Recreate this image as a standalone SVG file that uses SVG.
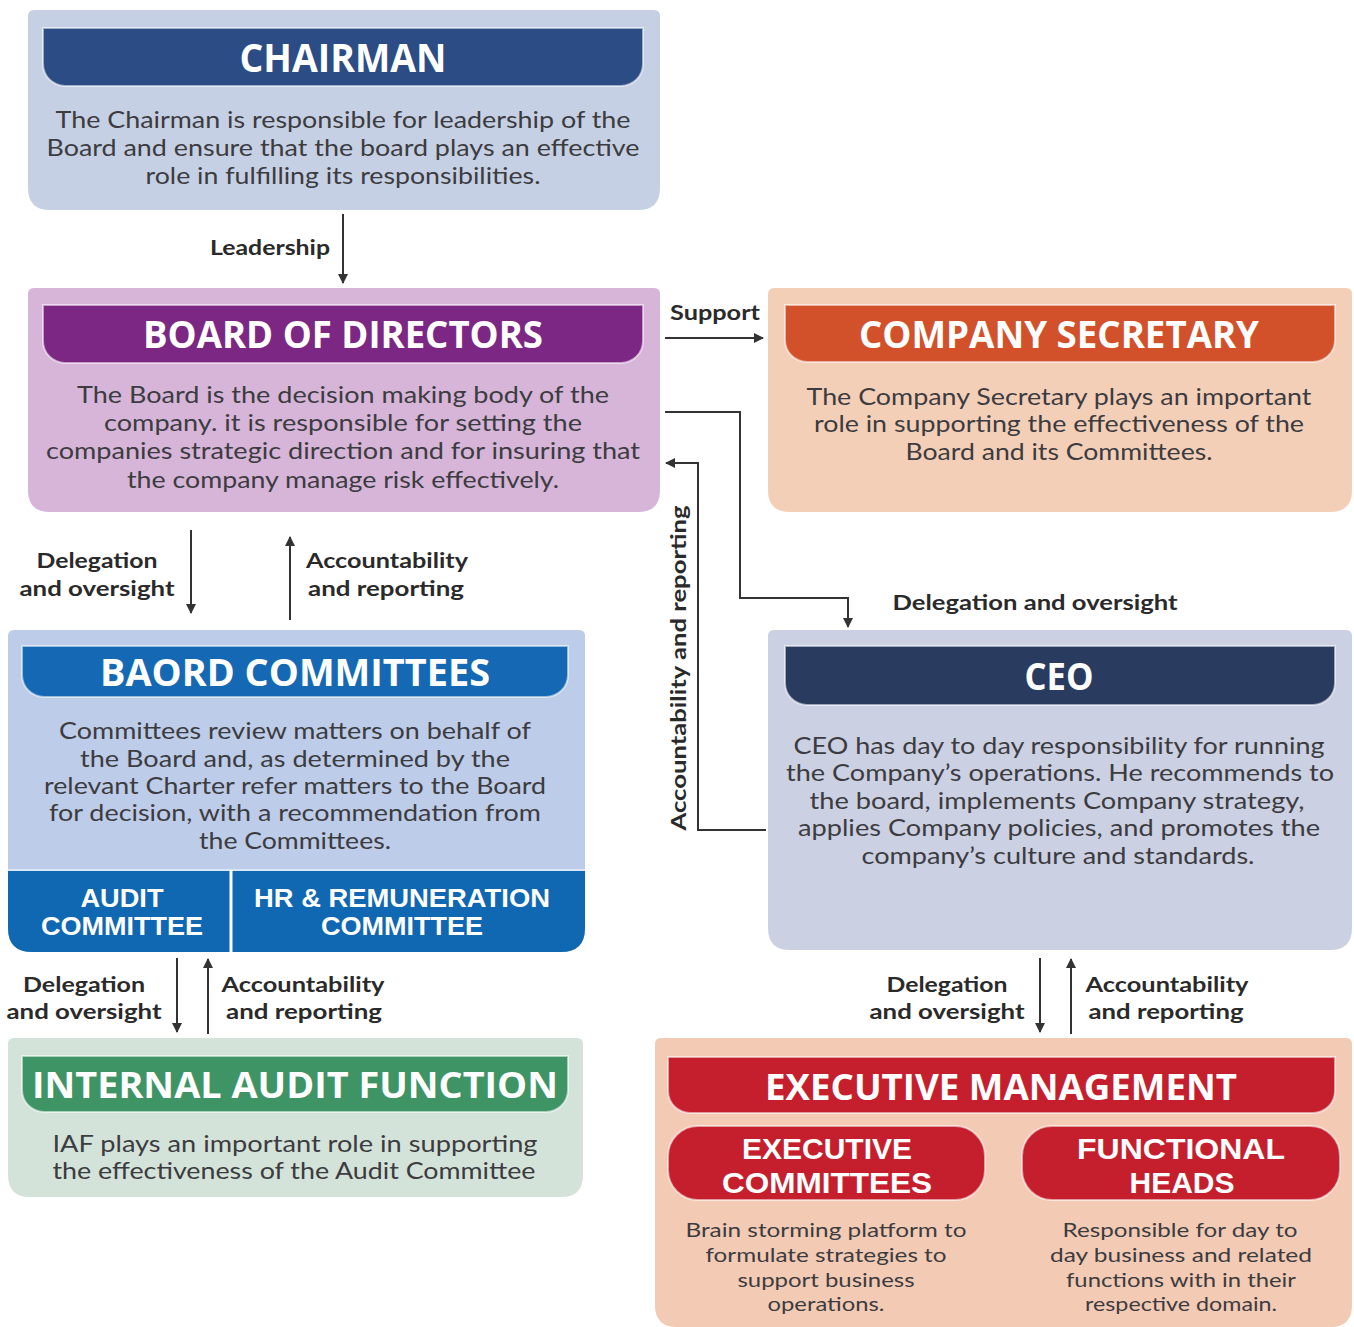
<svg xmlns="http://www.w3.org/2000/svg" width="1354" height="1327" viewBox="0 0 1354 1327">
  <defs>
    <marker id="arrow" viewBox="0 0 10 10" refX="9" refY="5" markerWidth="5" markerHeight="5" orient="auto-start-reverse" markerUnits="strokeWidth">
      <path d="M0,0 L10,5 L0,10 Z" fill="#333"/>
    </marker>
  </defs>
  <style>
    .hd { font-family: "Open Sans", "Liberation Sans", sans-serif; font-weight: 700; fill: #ffffff; text-anchor: middle; }
    .hd2 { font-family: "Liberation Sans", Arial, sans-serif; font-weight: 700; fill: #ffffff; text-anchor: middle; }
    .bd { font-family: Lato, "Liberation Sans", sans-serif; font-size: 23px; fill: #3c3c40; text-anchor: middle; }
    .sm { font-family: Lato, "Liberation Sans", sans-serif; font-size: 20px; fill: #3c3c40; text-anchor: middle; }
    .lb { font-family: Lato, "Liberation Sans", sans-serif; font-size: 21px; font-weight: 700; fill: #2a2a2a; text-anchor: middle; }
    .edge { fill: none; stroke: #333; stroke-width: 2; }
    .hbar { stroke: #ffffff; stroke-opacity: 0.55; stroke-width: 2; }
  </style>

  <rect width="1354" height="1327" fill="#ffffff"/>

  <!-- Chairman -->
  <g id="chairman">
    <path d="M34,10 H654 Q660,10 660,16 V188 Q660,210 638,210 H50 Q28,210 28,188 V16 Q28,10 34,10 Z" fill="#c6d0e4"/>
    <path class="hbar" d="M43,28 H643 V64 A22,22 0 0 1 621,86 H65 A22,22 0 0 1 43,64 Z" fill="#2c4c85"/>
    <text class="hd" x="343" y="72" font-size="40" textLength="207" lengthAdjust="spacingAndGlyphs">CHAIRMAN</text>
    <text class="bd" x="343" y="128" textLength="575" lengthAdjust="spacingAndGlyphs">The Chairman is responsible for leadership of the</text>
    <text class="bd" x="343" y="156" textLength="593" lengthAdjust="spacingAndGlyphs">Board and ensure that the board plays an effective</text>
    <text class="bd" x="343" y="184" textLength="395" lengthAdjust="spacingAndGlyphs">role in fulfilling its responsibilities.</text>
  </g>

  <!-- Board of Directors -->
  <g id="board">
    <path d="M34,288 H654 Q660,288 660,294 V490 Q660,512 638,512 H50 Q28,512 28,490 V294 Q28,288 34,288 Z" fill="#d6b5d9"/>
    <path class="hbar" d="M43,305 H643 V341 A22,22 0 0 1 621,363 H65 A22,22 0 0 1 43,341 Z" fill="#7b2783"/>
    <text class="hd" x="343" y="348" font-size="38" textLength="400" lengthAdjust="spacingAndGlyphs">BOARD OF DIRECTORS</text>
    <text class="bd" x="343" y="403" textLength="532" lengthAdjust="spacingAndGlyphs">The Board is the decision making body of the</text>
    <text class="bd" x="343" y="431" textLength="478" lengthAdjust="spacingAndGlyphs">company. it is responsible for setting the</text>
    <text class="bd" x="343" y="459" textLength="594" lengthAdjust="spacingAndGlyphs">companies strategic direction and for insuring that</text>
    <text class="bd" x="343" y="488" textLength="432" lengthAdjust="spacingAndGlyphs">the company manage risk effectively.</text>
  </g>

  <!-- Company Secretary -->
  <g id="company-secretary">
    <path d="M774,288 H1346 Q1352,288 1352,294 V490 Q1352,512 1330,512 H790 Q768,512 768,490 V294 Q768,288 774,288 Z" fill="#f4cfb8"/>
    <path class="hbar" d="M785,305 H1335 V340 A22,22 0 0 1 1313,362 H807 A22,22 0 0 1 785,340 Z" fill="#d2512a"/>
    <text class="hd" x="1059" y="348" font-size="38" textLength="400" lengthAdjust="spacingAndGlyphs">COMPANY SECRETARY</text>
    <text class="bd" x="1059" y="405" textLength="505" lengthAdjust="spacingAndGlyphs">The Company Secretary plays an important</text>
    <text class="bd" x="1059" y="432" textLength="490" lengthAdjust="spacingAndGlyphs">role in supporting the effectiveness of the</text>
    <text class="bd" x="1059" y="460" textLength="307" lengthAdjust="spacingAndGlyphs">Board and its Committees.</text>
  </g>

  <!-- Board Committees -->
  <g id="board-committees">
    <path d="M14,630 H579 Q585,630 585,636 V928 Q585,952 561,952 H32 Q8,952 8,928 V636 Q8,630 14,630 Z" fill="#bdcce8"/>
    <path class="hbar" d="M22,646 H568 V675 A22,22 0 0 1 546,697 H44 A22,22 0 0 1 22,675 Z" fill="#1569b4"/>
    <text class="hd" x="295" y="686" font-size="37" textLength="390" lengthAdjust="spacingAndGlyphs">BAORD COMMITTEES</text>
    <text class="bd" x="295" y="739" textLength="472" lengthAdjust="spacingAndGlyphs">Committees review matters on behalf of</text>
    <text class="bd" x="295" y="767" textLength="430" lengthAdjust="spacingAndGlyphs">the Board and, as determined by the</text>
    <text class="bd" x="295" y="794" textLength="502" lengthAdjust="spacingAndGlyphs">relevant Charter refer matters to the Board</text>
    <text class="bd" x="295" y="821" textLength="492" lengthAdjust="spacingAndGlyphs">for decision, with a recommendation from</text>
    <text class="bd" x="295" y="849" textLength="192" lengthAdjust="spacingAndGlyphs">the Committees.</text>
    <path d="M8,870 H585 V928 Q585,952 561,952 H32 Q8,952 8,928 Z" fill="#1067b2"/>
    <line x1="8" y1="870" x2="585" y2="870" stroke="#d9e4f5" stroke-width="2"/>
    <line x1="231" y1="870" x2="231" y2="952" stroke="#ffffff" stroke-width="3"/>
    <text class="hd2" x="122" y="907" font-size="25" textLength="83" lengthAdjust="spacingAndGlyphs">AUDIT</text>
    <text class="hd2" x="122" y="935" font-size="25" textLength="162" lengthAdjust="spacingAndGlyphs">COMMITTEE</text>
    <text class="hd2" x="402" y="907" font-size="25" textLength="296" lengthAdjust="spacingAndGlyphs">HR &amp; REMUNERATION</text>
    <text class="hd2" x="402" y="935" font-size="25" textLength="162" lengthAdjust="spacingAndGlyphs">COMMITTEE</text>
  </g>

  <!-- CEO -->
  <g id="ceo">
    <path d="M774,630 H1346 Q1352,630 1352,636 V928 Q1352,950 1330,950 H790 Q768,950 768,928 V636 Q768,630 774,630 Z" fill="#cbd0e3"/>
    <path class="hbar" d="M785,646 H1335 V683 A22,22 0 0 1 1313,705 H807 A22,22 0 0 1 785,683 Z" fill="#2a3b60"/>
    <text class="hd" x="1059" y="690" font-size="38" textLength="69" lengthAdjust="spacingAndGlyphs">CEO</text>
    <text class="bd" x="1059" y="754" textLength="531" lengthAdjust="spacingAndGlyphs">CEO has day to day responsibility for running</text>
    <text class="bd" x="1060" y="781" textLength="548" lengthAdjust="spacingAndGlyphs">the Company’s operations. He recommends to</text>
    <text class="bd" x="1057" y="809" textLength="495" lengthAdjust="spacingAndGlyphs">the board, implements Company strategy,</text>
    <text class="bd" x="1059" y="836" textLength="522" lengthAdjust="spacingAndGlyphs">applies Company policies, and promotes the</text>
    <text class="bd" x="1058" y="864" textLength="393" lengthAdjust="spacingAndGlyphs">company’s culture and standards.</text>
  </g>

  <!-- Internal Audit Function -->
  <g id="internal-audit">
    <path d="M14,1038 H577 Q583,1038 583,1044 V1175 Q583,1197 561,1197 H30 Q8,1197 8,1175 V1044 Q8,1038 14,1038 Z" fill="#d4e3d9"/>
    <path class="hbar" d="M22,1056 H568 V1090 A22,22 0 0 1 546,1112 H44 A22,22 0 0 1 22,1090 Z" fill="#3f9466"/>
    <text class="hd" x="295" y="1098" font-size="36" textLength="526" lengthAdjust="spacingAndGlyphs">INTERNAL AUDIT FUNCTION</text>
    <text class="bd" x="295" y="1152" textLength="485" lengthAdjust="spacingAndGlyphs">IAF plays an important role in supporting</text>
    <text class="bd" x="294" y="1179" textLength="483" lengthAdjust="spacingAndGlyphs">the effectiveness of the Audit Committee</text>
  </g>

  <!-- Executive Management -->
  <g id="executive-management">
    <path d="M661,1038 H1346 Q1352,1038 1352,1044 V1305 Q1352,1327 1330,1327 H677 Q655,1327 655,1305 V1044 Q655,1038 661,1038 Z" fill="#f3cab4"/>
    <path class="hbar" d="M668,1057 H1335 V1091 A22,22 0 0 1 1313,1113 H690 A22,22 0 0 1 668,1091 Z" fill="#c51f2e"/>
    <text class="hd" x="1001" y="1100" font-size="36" textLength="472" lengthAdjust="spacingAndGlyphs">EXECUTIVE MANAGEMENT</text>
    <rect class="hbar" x="668" y="1126" width="317" height="74" rx="30" fill="#c51f2e"/>
    <rect class="hbar" x="1022" y="1126" width="318" height="74" rx="30" fill="#c51f2e"/>
    <text class="hd2" x="827" y="1159" font-size="30" textLength="170" lengthAdjust="spacingAndGlyphs">EXECUTIVE</text>
    <text class="hd2" x="827" y="1193" font-size="30" textLength="210" lengthAdjust="spacingAndGlyphs">COMMITTEES</text>
    <text class="hd2" x="1181" y="1159" font-size="30" textLength="208" lengthAdjust="spacingAndGlyphs">FUNCTIONAL</text>
    <text class="hd2" x="1182" y="1193" font-size="30" textLength="105" lengthAdjust="spacingAndGlyphs">HEADS</text>
    <text class="sm" x="826" y="1237" textLength="281" lengthAdjust="spacingAndGlyphs">Brain storming platform to</text>
    <text class="sm" x="826" y="1262" textLength="241" lengthAdjust="spacingAndGlyphs">formulate strategies to</text>
    <text class="sm" x="826" y="1287" textLength="177" lengthAdjust="spacingAndGlyphs">support business</text>
    <text class="sm" x="826" y="1311" textLength="117" lengthAdjust="spacingAndGlyphs">operations.</text>
    <text class="sm" x="1180" y="1237" textLength="235" lengthAdjust="spacingAndGlyphs">Responsible for day to</text>
    <text class="sm" x="1181" y="1262" textLength="262" lengthAdjust="spacingAndGlyphs">day business and related</text>
    <text class="sm" x="1181" y="1287" textLength="230" lengthAdjust="spacingAndGlyphs">functions with in their</text>
    <text class="sm" x="1181" y="1311" textLength="192" lengthAdjust="spacingAndGlyphs">respective domain.</text>
  </g>

  <!-- Connectors and their labels -->
  <g id="connectors">
    <!-- Chairman to Board -->
    <line class="edge" x1="343" y1="214" x2="343" y2="283" marker-end="url(#arrow)"/>
    <text class="lb" x="270" y="255" textLength="120" lengthAdjust="spacingAndGlyphs">Leadership</text>

    <!-- Board to Company Secretary -->
    <line class="edge" x1="665" y1="338" x2="763" y2="338" marker-end="url(#arrow)"/>
    <text class="lb" x="715" y="320" textLength="90" lengthAdjust="spacingAndGlyphs">Support</text>

    <!-- Board to Board Committees -->
    <line class="edge" x1="191" y1="530" x2="191" y2="613" marker-end="url(#arrow)"/>
    <line class="edge" x1="290" y1="620" x2="290" y2="537" marker-end="url(#arrow)"/>
    <text class="lb" x="97" y="568" textLength="121" lengthAdjust="spacingAndGlyphs">Delegation</text>
    <text class="lb" x="97" y="596" textLength="155" lengthAdjust="spacingAndGlyphs">and oversight</text>
    <text class="lb" x="387" y="568" textLength="162" lengthAdjust="spacingAndGlyphs">Accountability</text>
    <text class="lb" x="386" y="596" textLength="156" lengthAdjust="spacingAndGlyphs">and reporting</text>

    <!-- Board to CEO -->
    <polyline class="edge" points="665,412 740,412 740,598 848,598 848,627" marker-end="url(#arrow)"/>
    <text class="lb" x="1035" y="610" textLength="285" lengthAdjust="spacingAndGlyphs">Delegation and oversight</text>

    <!-- CEO back to Board -->
    <polyline class="edge" points="766,830 698,830 698,463 666,463" marker-end="url(#arrow)"/>
    <text class="lb" x="686" y="668" transform="rotate(-90 686 668)" textLength="325" lengthAdjust="spacingAndGlyphs">Accountability and reporting</text>

    <!-- Board Committees to Internal Audit -->
    <line class="edge" x1="177" y1="958" x2="177" y2="1032" marker-end="url(#arrow)"/>
    <line class="edge" x1="208" y1="1034" x2="208" y2="959" marker-end="url(#arrow)"/>
    <text class="lb" x="84" y="992" textLength="122" lengthAdjust="spacingAndGlyphs">Delegation</text>
    <text class="lb" x="84" y="1019" textLength="155" lengthAdjust="spacingAndGlyphs">and oversight</text>
    <text class="lb" x="303" y="992" textLength="163" lengthAdjust="spacingAndGlyphs">Accountability</text>
    <text class="lb" x="304" y="1019" textLength="156" lengthAdjust="spacingAndGlyphs">and reporting</text>

    <!-- CEO to Executive Management -->
    <line class="edge" x1="1040" y1="958" x2="1040" y2="1032" marker-end="url(#arrow)"/>
    <line class="edge" x1="1071" y1="1034" x2="1071" y2="959" marker-end="url(#arrow)"/>
    <text class="lb" x="947" y="992" textLength="121" lengthAdjust="spacingAndGlyphs">Delegation</text>
    <text class="lb" x="947" y="1019" textLength="155" lengthAdjust="spacingAndGlyphs">and oversight</text>
    <text class="lb" x="1167" y="992" textLength="163" lengthAdjust="spacingAndGlyphs">Accountability</text>
    <text class="lb" x="1166" y="1019" textLength="155" lengthAdjust="spacingAndGlyphs">and reporting</text>
  </g>
</svg>
